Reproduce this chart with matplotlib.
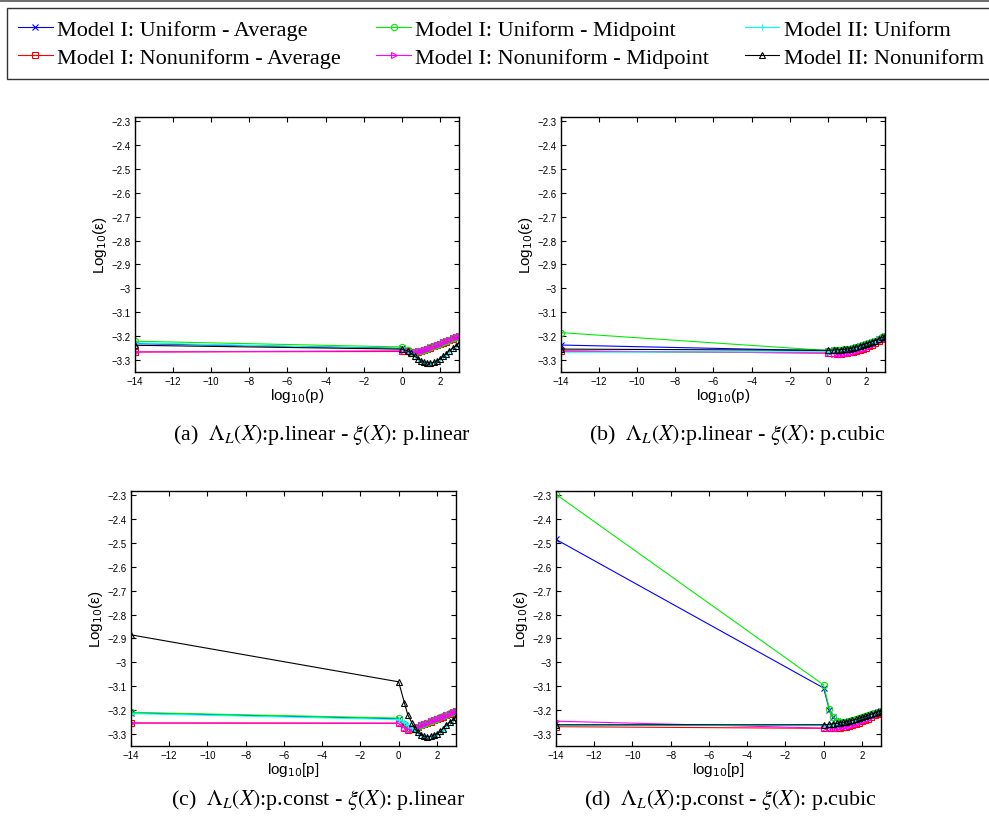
import numpy as np
import matplotlib
matplotlib.use("Agg")
import matplotlib.pyplot as plt
from matplotlib.lines import Line2D

plt.rcParams['font.family'] = ['Liberation Sans', 'DejaVu Sans']
plt.rcParams['mathtext.fontset'] = 'stix'
plt.rcParams['axes.unicode_minus'] = True

# p values (x axis shows log10 of these)
p_vals = [1e-14, 1, 2, 3, 5, 7, 10, 15, 20, 30, 50, 70, 100, 150, 200, 300, 500, 700, 1000]

series_names = ['Model I: Uniform - Average', 'Model I: Nonuniform - Average',
                'Model I: Uniform - Midpoint', 'Model I: Nonuniform - Midpoint',
                'Model II: Uniform', 'Model II: Nonuniform']
series_colors = ['#0000ff', '#ff0000', '#00ee00', '#ff00ff', '#00ffff', '#000000']
series_markers = ['x', 's', 'o', '>', '+', '^']

y_ticks = [-3.3, -3.2, -3.1, -3.0, -2.9, -2.8, -2.7, -2.6, -2.5, -2.4, -2.3]
x_ticks = [-14, -12, -10, -8, -6, -4, -2, 0, 2]

# (a) p.linear / p.linear
a_blue = [-3.232, -3.252, -3.261, -3.266, -3.267, -3.264, -3.261, -3.257, -3.253, -3.248, -3.242, -3.237, -3.232, -3.226, -3.222, -3.215, -3.209, -3.204, -3.200]
a_red = [-3.267, -3.265, -3.265, -3.268, -3.269, -3.266, -3.263, -3.259, -3.255, -3.250, -3.244, -3.239, -3.234, -3.228, -3.224, -3.217, -3.211, -3.206, -3.202]
a_green = [-3.222, -3.246, -3.259, -3.266, -3.267, -3.264, -3.261, -3.257, -3.253, -3.248, -3.242, -3.237, -3.232, -3.226, -3.222, -3.215, -3.209, -3.204, -3.200]
a_magenta = [-3.267, -3.262, -3.262, -3.267, -3.268, -3.265, -3.262, -3.258, -3.254, -3.249, -3.243, -3.238, -3.233, -3.227, -3.223, -3.216, -3.210, -3.205, -3.201]
a_cyan = [-3.229, -3.254, -3.263, -3.273, -3.286, -3.297, -3.304, -3.310, -3.313, -3.314, -3.311, -3.305, -3.297, -3.286, -3.278, -3.264, -3.251, -3.241, -3.231]
a_black = [-3.239, -3.255, -3.262, -3.272, -3.285, -3.296, -3.303, -3.309, -3.312, -3.313, -3.310, -3.304, -3.296, -3.285, -3.277, -3.263, -3.250, -3.240, -3.230]

# (b) p.linear / p.cubic
b_blue = [-3.238, -3.262, -3.260, -3.259, -3.258, -3.257, -3.256, -3.254, -3.252, -3.248, -3.242, -3.238, -3.234, -3.229, -3.225, -3.220, -3.213, -3.207, -3.202]
b_red = [-3.264, -3.271, -3.273, -3.274, -3.274, -3.273, -3.271, -3.269, -3.267, -3.264, -3.258, -3.254, -3.249, -3.242, -3.237, -3.229, -3.221, -3.214, -3.209]
b_green = [-3.186, -3.261, -3.259, -3.258, -3.257, -3.256, -3.255, -3.253, -3.251, -3.247, -3.241, -3.237, -3.233, -3.228, -3.224, -3.219, -3.212, -3.206, -3.201]
b_magenta = [-3.262, -3.272, -3.274, -3.275, -3.275, -3.274, -3.272, -3.270, -3.268, -3.265, -3.259, -3.255, -3.250, -3.243, -3.238, -3.230, -3.222, -3.215, -3.210]
b_cyan = [-3.268, -3.266, -3.262, -3.260, -3.258, -3.257, -3.256, -3.254, -3.252, -3.248, -3.242, -3.238, -3.234, -3.229, -3.225, -3.220, -3.213, -3.207, -3.202]
b_black = [-3.255, -3.260, -3.259, -3.258, -3.257, -3.256, -3.255, -3.253, -3.251, -3.247, -3.241, -3.237, -3.233, -3.228, -3.224, -3.219, -3.212, -3.206, -3.201]

# (c) p.const / p.linear
c_blue = [-3.212, -3.237, -3.262, -3.276, -3.280, -3.276, -3.270, -3.264, -3.259, -3.254, -3.248, -3.243, -3.238, -3.232, -3.228, -3.222, -3.215, -3.210, -3.205]
c_red = [-3.255, -3.256, -3.276, -3.282, -3.281, -3.277, -3.271, -3.265, -3.260, -3.255, -3.249, -3.244, -3.239, -3.233, -3.229, -3.223, -3.216, -3.211, -3.206]
c_green = [-3.210, -3.234, -3.260, -3.275, -3.279, -3.276, -3.270, -3.263, -3.258, -3.253, -3.247, -3.242, -3.237, -3.231, -3.227, -3.221, -3.214, -3.209, -3.204]
c_magenta = [-3.254, -3.255, -3.275, -3.283, -3.281, -3.276, -3.270, -3.264, -3.259, -3.254, -3.248, -3.243, -3.238, -3.232, -3.228, -3.222, -3.215, -3.210, -3.205]
c_cyan = [-3.215, -3.240, -3.250, -3.262, -3.274, -3.284, -3.296, -3.306, -3.311, -3.314, -3.312, -3.307, -3.302, -3.292, -3.282, -3.267, -3.252, -3.242, -3.232]
c_black = [-2.885, -3.082, -3.170, -3.220, -3.255, -3.278, -3.294, -3.304, -3.309, -3.312, -3.310, -3.305, -3.300, -3.290, -3.280, -3.265, -3.250, -3.240, -3.230]

# (d) p.const / p.cubic
d_blue = [-2.485, -3.108, -3.200, -3.230, -3.246, -3.251, -3.251, -3.250, -3.248, -3.245, -3.240, -3.236, -3.232, -3.228, -3.224, -3.219, -3.213, -3.209, -3.206]
d_red = [-3.270, -3.277, -3.277, -3.276, -3.275, -3.274, -3.272, -3.270, -3.268, -3.264, -3.258, -3.253, -3.248, -3.242, -3.237, -3.230, -3.222, -3.216, -3.211]
d_green = [-2.296, -3.095, -3.196, -3.228, -3.245, -3.250, -3.250, -3.249, -3.247, -3.244, -3.239, -3.235, -3.231, -3.227, -3.223, -3.218, -3.212, -3.208, -3.205]
d_magenta = [-3.247, -3.276, -3.276, -3.275, -3.274, -3.273, -3.271, -3.269, -3.267, -3.263, -3.257, -3.252, -3.247, -3.241, -3.236, -3.229, -3.221, -3.215, -3.210]
d_cyan = [-3.266, -3.264, -3.261, -3.259, -3.257, -3.255, -3.253, -3.251, -3.249, -3.245, -3.240, -3.236, -3.232, -3.228, -3.224, -3.219, -3.213, -3.209, -3.206]
d_black = [-3.262, -3.262, -3.260, -3.258, -3.256, -3.254, -3.252, -3.250, -3.248, -3.244, -3.239, -3.235, -3.231, -3.227, -3.223, -3.218, -3.212, -3.208, -3.205]

panels = [
    ([a_blue, a_red, a_green, a_magenta, a_cyan, a_black], 'log$_{10}$(p)',
     r'(a)  $\Lambda_L(X)$:p.linear - $\xi(X)$: p.linear'),
    ([b_blue, b_red, b_green, b_magenta, b_cyan, b_black], 'log$_{10}$(p)',
     r'(b)  $\Lambda_L(X)$:p.linear - $\xi(X)$: p.cubic'),
    ([c_blue, c_red, c_green, c_magenta, c_cyan, c_black], 'log$_{10}$[p]',
     r'(c)  $\Lambda_L(X)$:p.const - $\xi(X)$: p.linear'),
    ([d_blue, d_red, d_green, d_magenta, d_cyan, d_black], 'log$_{10}$[p]',
     r'(d)  $\Lambda_L(X)$:p.const - $\xi(X)$: p.cubic'),
]

W, H = 989, 828
fig = plt.figure(figsize=(W / 100, H / 100), dpi=100)

# axes boxes in pixels: left, top, right, bottom
boxes = [(135, 118, 459, 373), (561, 118, 885, 373),
         (131, 492, 456, 747), (556, 492, 881, 747)]
caption_pos = [(322, 435), (737, 435), (318, 800), (730, 800)]

x = np.log10(p_vals)

for k, (ys, xlab, cap) in enumerate(panels):
    l, t, r, b = boxes[k]
    ax = fig.add_axes([l / W, 1 - b / H, (r - l) / W, (b - t) / H])
    for y, c, m in zip(ys, series_colors, series_markers):
        ax.plot(x, y, color=c, marker=m, markersize=4.5, lw=0.8,
                markerfacecolor='none', markeredgewidth=0.8)
    ax.set_xlim(-14, 3)
    ax.set_ylim(-3.351, -2.282)
    ax.set_xticks(x_ticks)
    ax.set_yticks(y_ticks)
    ax.set_yticklabels([('%g' % v).replace('-', '\u2212') for v in y_ticks])
    ax.tick_params(direction='in', top=True, right=True, labelsize=7, length=3.5, width=0.8, pad=3)
    for s in ax.spines.values():
        s.set_linewidth(1.0)
    ax.set_xlabel(xlab, fontsize=11, labelpad=0, math_fontfamily='dejavusans')
    ax.set_ylabel('Log$_{10}$(\u03b5)', fontsize=11, labelpad=2, math_fontfamily='dejavusans')
    fig.text(caption_pos[k][0] / W, 1 - caption_pos[k][1] / H, cap,
             ha='center', va='center', fontsize=15.8, family='Liberation Serif')

handles = [Line2D([], [], color=c, marker=m, markersize=4.5, lw=0.8,
                  markerfacecolor='none', markeredgewidth=0.8)
           for c, m in zip(series_colors, series_markers)]
leg = fig.legend(handles, series_names, loc='upper left', ncol=3,
                 bbox_to_anchor=(7 / W, 1 - 9 / H), borderaxespad=0,
                 prop={'family': 'Liberation Serif', 'size': 16},
                 frameon=True, fancybox=False, edgecolor='black',
                 handlelength=1.55, handletextpad=0.2, columnspacing=1.6,
                 labelspacing=0.34, borderpad=0.5)
leg.get_frame().set_linewidth(1.0)

fig.add_artist(Line2D([0, 1], [1 - 1.5 / H, 1 - 1.5 / H], color='#555555', lw=1.2))

fig.savefig('out.png', dpi=100)
